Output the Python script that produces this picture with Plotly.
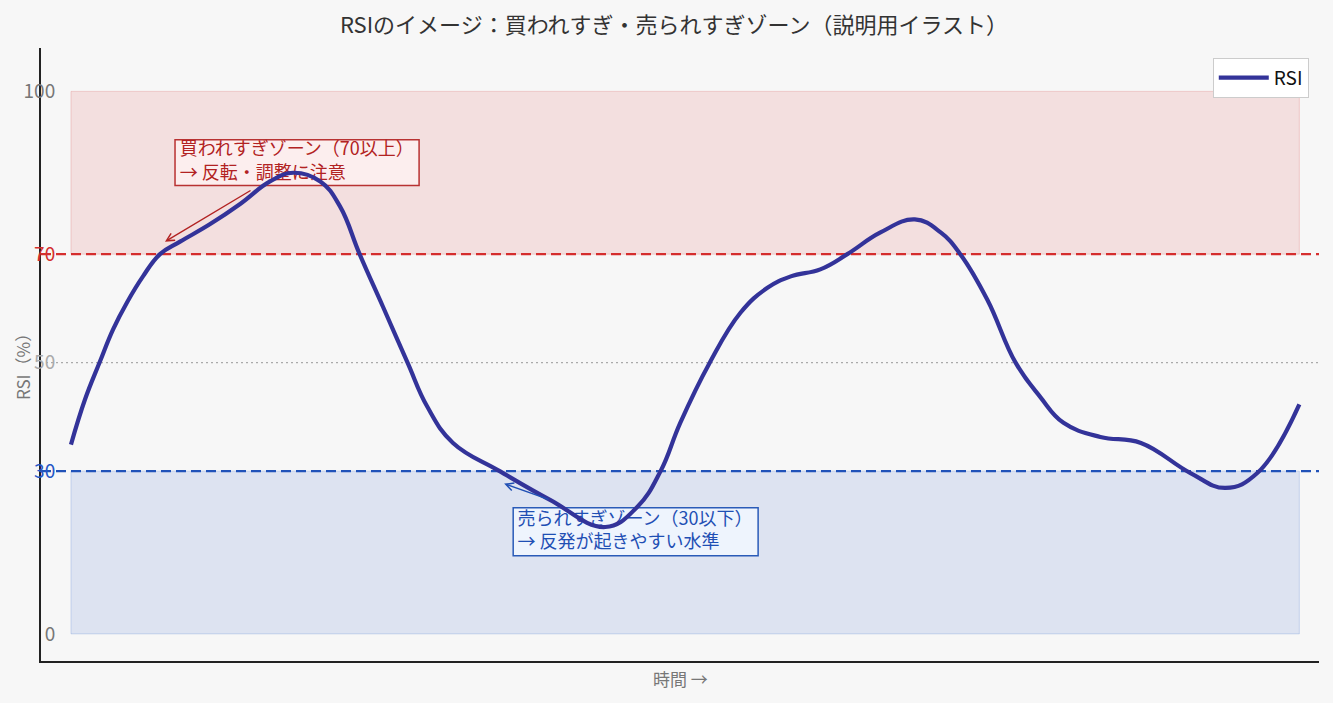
import plotly.graph_objects as go

# RSI illustration data (time index 0..100)
t_vals = [0, 1.14, 2.36, 3.42, 4.56, 5.86, 7.25, 8.88, 11.3, 13.8, 16.2, 18.1,
          20.3, 21.9, 23.5, 25.4, 27.4, 29.0, 31.1, 34.9, 39.0, 43.5, 46.1,
          48.0, 49.6, 52.0, 54.5, 56.7, 58.6, 61.0, 63.2, 65.9, 68.7, 70.8,
          72.4, 74.6, 76.9, 78.9, 80.8, 83.8, 87.1, 91.1, 94.0, 96.6, 100]
rsi_vals = [34.9, 43.2, 50.2, 56.1, 61.1, 65.9, 70, 72.3, 75.5, 79.3, 83.4, 85,
            83.4, 78.8, 70, 60.3, 50, 41.9, 35.2, 30, 24.7, 19.7, 23.4,
            30, 38.9, 50, 59.2, 63.8, 65.9, 67.2, 70, 74, 76.4, 74,
            70, 61.6, 50, 43.7, 38.9, 36.3, 35.2, 29.7, 26.9, 29.7, 42.3]

OVERBOUGHT = 70
OVERSOLD = 30
MIDLINE = 50
t_start, t_end = 0, 100

tick_vals = [0, 30, 50, 70, 100]
tick_text = [
    "<span style='color:#777777'>0</span>",
    "<span style='color:#2456c6'>30</span>",
    "<span style='color:#aaaaaa'>50</span>",
    "<span style='color:#d32f2f'>70</span>",
    "<span style='color:#777777'>100</span>",
]

# callout notes: text anchor, box extent, arrow tail -> head
ob_text = "買われすぎゾーン（70以上）<br>→ 反転・調整に注意"
ob_text_pos = (8.85, 86.9)
ob_box = (8.47, 28.34, 82.66, 91.1)
ob_arrow = (14.74, 81.9, 7.65, 72.3)

os_text = "売られすぎゾーン（30以下）<br>→ 反発が起きやすい水準"
os_text_pos = (36.35, 18.8)
os_box = (36.0, 55.94, 14.39, 23.25)
os_arrow = (39.0, 24.7, 35.26, 27.7)

FONT = "Noto Sans CJK JP"

fig = go.Figure()

# zones
fig.add_shape(type="rect", xref="x", yref="y",
              x0=t_start, x1=t_end, y0=OVERBOUGHT, y1=100,
              fillcolor="rgba(211,47,47,0.12)",
              line=dict(color="rgba(211,47,47,0.18)", width=1), layer="below")
fig.add_shape(type="rect", xref="x", yref="y",
              x0=t_start, x1=t_end, y0=0, y1=OVERSOLD,
              fillcolor="rgba(36,86,198,0.12)",
              line=dict(color="rgba(36,86,198,0.18)", width=1), layer="below")

# threshold lines
fig.add_shape(type="line", xref="paper", yref="y", x0=0, x1=1,
              y0=OVERBOUGHT, y1=OVERBOUGHT,
              line=dict(color="#d62f2f", width=2.4, dash="10px,5px"), layer="below")
fig.add_shape(type="line", xref="paper", yref="y", x0=0, x1=1,
              y0=OVERSOLD, y1=OVERSOLD,
              line=dict(color="#2152b8", width=2.4, dash="10px,5px"), layer="below")
fig.add_shape(type="line", xref="paper", yref="y", x0=0, x1=1,
              y0=MIDLINE, y1=MIDLINE,
              line=dict(color="#aaaaaa", width=1.3, dash="2px,3px"), layer="below")

# callout boxes (under the RSI line, like the original)
fig.add_shape(type="rect", xref="x", yref="y",
              x0=ob_box[0], x1=ob_box[1], y0=ob_box[2], y1=ob_box[3],
              fillcolor="rgba(253,240,240,0.9)",
              line=dict(color="#b83232", width=1.5), layer="below")
fig.add_shape(type="rect", xref="x", yref="y",
              x0=os_box[0], x1=os_box[1], y0=os_box[2], y1=os_box[3],
              fillcolor="rgba(240,245,254,0.9)",
              line=dict(color="#2a5bb8", width=1.5), layer="below")

# callout texts as text traces so the RSI line sits on top
fig.add_trace(go.Scatter(
    x=[ob_text_pos[0]], y=[ob_text_pos[1]], mode="text", text=[ob_text],
    textposition="middle right", showlegend=False, hoverinfo="skip",
    textfont=dict(family=FONT, size=18, color="#b22222"),
))
fig.add_trace(go.Scatter(
    x=[os_text_pos[0]], y=[os_text_pos[1]], mode="text", text=[os_text],
    textposition="middle right", showlegend=False, hoverinfo="skip",
    textfont=dict(family=FONT, size=18, color="#1f4fb4"),
))

fig.add_trace(go.Scatter(
    x=t_vals, y=rsi_vals,
    mode="lines",
    name="RSI",
    line=dict(color="#333399", width=4.2, shape="spline", smoothing=1.2),
))

# arrows
fig.add_annotation(
    x=ob_arrow[2], y=ob_arrow[3], ax=ob_arrow[0], ay=ob_arrow[1],
    axref="x", ayref="y", text="", showarrow=True,
    arrowhead=5, arrowsize=1.1, arrowwidth=1.4, arrowcolor="#b22222",
)
fig.add_annotation(
    x=os_arrow[2], y=os_arrow[3], ax=os_arrow[0], ay=os_arrow[1],
    axref="x", ayref="y", text="", showarrow=True,
    arrowhead=5, arrowsize=1.1, arrowwidth=1.4, arrowcolor="#1f4fb4",
)

# axis titles
fig.add_annotation(
    text="RSI（%）", xref="paper", yref="paper", x=0, y=0.486,
    xshift=-19, xanchor="center", yanchor="middle",
    textangle=-90, showarrow=False,
    font=dict(family=FONT, size=17, color="#777777"),
)
fig.add_annotation(
    text="時間 →", xref="paper", yref="paper", x=0.5, y=0,
    yshift=-17, xanchor="center", yanchor="middle", showarrow=False,
    font=dict(family=FONT, size=17, color="#777777"),
)

fig.update_layout(
    width=1333, height=703,
    margin=dict(l=41, r=14, t=48, b=42),
    paper_bgcolor="#f7f7f7",
    plot_bgcolor="#f7f7f7",
    font=dict(family=FONT, color="#333333"),
    title=dict(
        text="RSIのイメージ：買われすぎ・売られすぎゾーン（説明用イラスト）",
        x=0.5056, xref="container", xanchor="center",
        y=1 - 25 / 703, yref="container", yanchor="middle",
        font=dict(family=FONT, size=22, color="#333333"),
    ),
    showlegend=True,
    legend=dict(
        x=0.992, y=0.984, xanchor="right", yanchor="top",
        bgcolor="white", bordercolor="#cccccc", borderwidth=1,
        itemwidth=50,
        font=dict(family=FONT, size=19, color="#111111"),
    ),
)

fig.update_xaxes(
    range=[-2.44, 101.6], showgrid=False, zeroline=False,
    showticklabels=False, ticks="",
    showline=True, linecolor="#222222", linewidth=2,
)
fig.update_yaxes(
    range=[-5, 108], showgrid=False, zeroline=False,
    tickvals=tick_vals, ticktext=tick_text, ticks="",
    tickfont=dict(family=FONT, size=19),
    ticklabelstandoff=-20,
    showline=True, linecolor="#222222", linewidth=2,
)

fig.write_html("out.html", config={"displayModeBar": False},
               post_script="document.body.style.margin='0';")
